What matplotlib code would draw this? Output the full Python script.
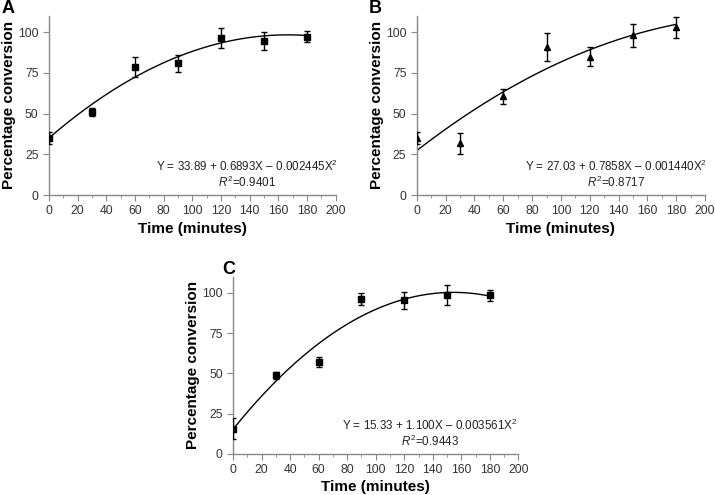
import numpy as np
import matplotlib
matplotlib.use("Agg")
import matplotlib.pyplot as plt
from matplotlib.ticker import MultipleLocator

plt.rcParams["font.family"] = ["Liberation Sans", "DejaVu Sans"]
plt.rcParams["mathtext.fontset"] = "custom"
plt.rcParams["mathtext.rm"] = "Liberation Sans"
plt.rcParams["mathtext.it"] = "Liberation Sans:italic"
plt.rcParams["mathtext.bf"] = "Liberation Sans:bold"

# ---- data ----
time_min = [0, 30, 60, 90, 120, 150, 180]

conv_a = [35.2, 51.0, 78.5, 81.0, 96.5, 94.5, 97.3]
err_a = [3.7, 2.2, 6.0, 5.2, 6.0, 5.6, 3.3]

conv_b = [35.2, 31.8, 60.5, 90.8, 85.0, 98.0, 103.0]
err_b = [3.6, 6.5, 4.8, 8.5, 5.8, 7.0, 6.5]

conv_c = [15.6, 48.9, 57.0, 95.9, 95.4, 98.5, 98.5]
err_c = [6.5, 2.2, 3.0, 3.7, 5.2, 6.2, 3.5]

# coefficients (c0, c1, c2) of the fitted curves as they are drawn
curve_a = [35.0, 0.76, -0.00228]
curve_b = [27.3, 0.686, -0.00142]
curve_c = [15.33, 1.100, -0.003561]

eq_a = "Y = 33.89 + 0.6893X \u2013 0.002445X$^2$"
eq_b = "Y = 27.03 + 0.7858X \u2013 0.001440X$^2$"
eq_c = "Y = 15.33 + 1.100X \u2013 0.003561X$^2$"
r2_a = "$R^2$=0.9401"
r2_b = "$R^2$=0.8717"
r2_c = "$R^2$=0.9443"

fig = plt.figure(figsize=(7.15, 4.95), dpi=100)

panels = [
    ("A", [0.0685, 0.606, 0.401, 0.362], conv_a, err_a, curve_a, eq_a, r2_a, "s", (0.002, 1.0)),
    ("B", [0.583, 0.606, 0.403, 0.362], conv_b, err_b, curve_b, eq_b, r2_b, "^", (0.516, 1.0)),
    ("C", [0.326, 0.083, 0.399, 0.358], conv_c, err_c, curve_c, eq_c, r2_c, "s", (0.311, 0.472)),
]

for label, rect, y, yerr, coef, eq, r2, mk, lab_pos in panels:
    ax = fig.add_axes(rect)
    ax.errorbar(time_min, y, yerr=yerr, fmt=mk, color="black",
                ms=4.5 if mk == "^" else 4,
                ecolor="black", elinewidth=1.0, capsize=2.5, capthick=1.0, zorder=3)
    xs = np.linspace(time_min[0], time_min[-1], 200)
    ax.plot(xs, coef[0] + coef[1] * xs + coef[2] * xs ** 2, color="black", lw=1.0)

    ax.set_xlim(0, 200)
    ax.set_ylim(0, 110)
    ax.set_xticks(range(0, 201, 20))
    ax.xaxis.set_minor_locator(MultipleLocator(10))
    ax.set_yticks([0, 25, 50, 75, 100])
    for side in ("top", "right"):
        ax.spines[side].set_visible(False)
    for side in ("left", "bottom"):
        ax.spines[side].set_color("#888888")
        ax.spines[side].set_linewidth(1.0)
    ax.tick_params(axis="both", which="both", direction="out", color="#888888",
                   labelsize=8.8, labelcolor="#333333")
    ax.tick_params(which="major", length=4)
    ax.tick_params(which="minor", length=2.5)

    ax.set_xlabel("Time (minutes)", fontsize=11, fontweight="bold", labelpad=3)
    ax.set_ylabel("Percentage conversion", fontsize=11, fontweight="bold", labelpad=1.5)

    ax.text(0.69, 0.162, eq, transform=ax.transAxes, ha="center", va="center",
            fontsize=8.4, color="#222222")
    ax.text(0.69, 0.073, r2, transform=ax.transAxes, ha="center", va="center",
            fontsize=8.4, color="#222222")

    fig.text(lab_pos[0], lab_pos[1], label, fontsize=13, fontweight="bold",
             ha="left", va="top")

fig.savefig("out.png", dpi=100)
